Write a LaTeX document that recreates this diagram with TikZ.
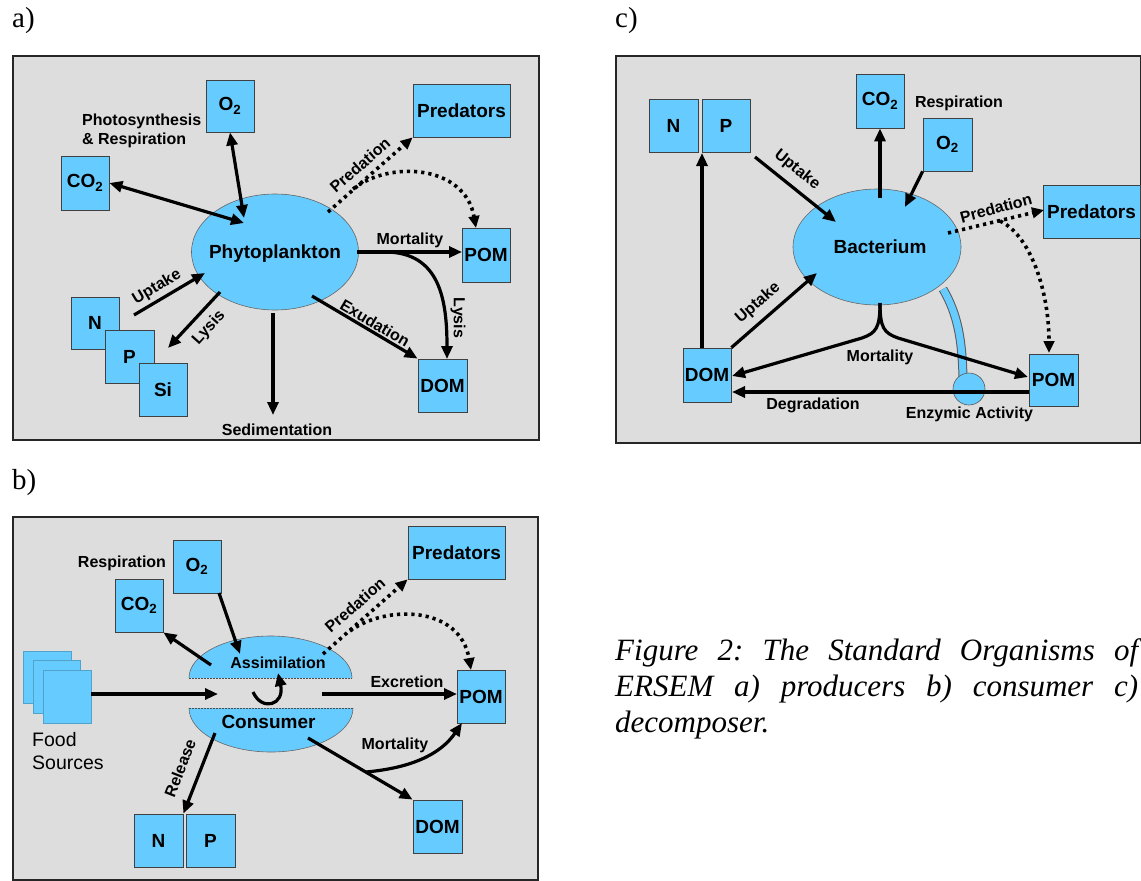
\documentclass[tikz,border=0pt]{standalone}
\usepackage{fontspec}
\setmainfont{Liberation Serif}
\newfontfamily\arialfont{Liberation Sans}
\usetikzlibrary{arrows.meta,shapes.geometric}
\definecolor{boxblue}{RGB}{102,204,255}
\definecolor{panelgray}{RGB}{221,221,221}
\newcommand{\lblfont}{\arialfont\bfseries\fontsize{19}{22}\selectfont}
\newcommand{\smlfont}{\arialfont\bfseries\fontsize{16}{19}\selectfont}
\newcommand{\capfont}{\frenchspacing\itshape\fontsize{31}{36}\selectfont}
\begin{document}
\begin{tikzpicture}[x=1pt,y=-1pt,
  frame/.style={draw=black!85, fill=panelgray, line width=1.3pt},
  bx/.style 2 args={draw=black!75, fill=boxblue, line width=0.8pt, inner sep=0pt,
     font=\lblfont, minimum width=#1pt, minimum height=#2pt},
  fb/.style 2 args={draw=boxblue!80!black, fill=boxblue, line width=0.4pt, inner sep=0pt,
     minimum width=#1pt, minimum height=#2pt},
  ell/.style 2 args={ellipse, draw=black!60, line width=0.6pt, fill=boxblue,
     minimum width=#1pt, minimum height=#2pt, inner sep=0pt},
  txt/.style={font=\smlfont, inner sep=0pt},
  big/.style={font=\lblfont, inner sep=0pt},
  arr/.style={line width=3.2pt, -{Triangle[length=13pt,width=11pt]}},
  darr/.style={line width=3.2pt, {Triangle[length=13pt,width=11pt]}-{Triangle[length=13pt,width=11pt]}},
  dotarr/.style={line width=3.6pt, dash pattern=on 3.2pt off 4pt, -{Triangle[length=12pt,width=10.5pt]}},
  halfline/.style={draw=black!70, line width=0.6pt, dash pattern=on 1.5pt off 1.5pt},
  shell/.style={fill=boxblue, draw=black!60, line width=0.6pt},
  plab/.style={font=\fontsize{29}{32}\selectfont, inner sep=0pt, anchor=west},
  capline/.style={font=\capfont, inner sep=0pt, anchor=base west}
]
\useasboundingbox (0,0) rectangle (1141,881);
\fill[white] (0,0) rectangle (1141,881);

% ---------------- panel labels ----------------
\node[plab] (la) at (12,21) {a)};
\node[plab] (lb) at (12,483) {b)};
\node[plab] (lc) at (615,21) {c)};

% ================= PANEL A =================
\draw[frame] (13,56) rectangle (539,440);
\node[bx={48}{52}] (o2a) at (230,106) {O\textsubscript{2}};
\node[bx={48}{54}] (co2a) at (85,183) {CO\textsubscript{2}};
\node[bx={97}{53}] (preda) at (461.5,110.5) {Predators};
\node[bx={48}{54}] (poma) at (486,255) {POM};
\node[bx={49}{53}] (doma) at (442.5,385.5) {DOM};
\node[bx={48}{52}] (na) at (95,323) {N};
\node[bx={49}{53}] (pa) at (129.5,356.5) {P};
\node[bx={48}{53}] (sia) at (163,389.5) {Si};
\node[ell={167}{116}] (phy) at (275,252) {};
\node[big] (phyt) at (275,254) {Phytoplankton};

\coordinate (a1) at (244,223);
\coordinate (a2) at (244,218);
\coordinate (a3) at (357,252);
\coordinate (a4) at (462,252);
\coordinate (a5) at (385,252);
\coordinate (a6) at (447,359);
\coordinate (a7) at (312,296);
\coordinate (a8) at (273,313);
\coordinate (a9) at (273,415);
\coordinate (a10) at (134,315);
\coordinate (a11) at (205,273);
\coordinate (a12) at (220,292);
\coordinate (a13) at (168,348);
\coordinate (a14) at (328,212);
\coordinate (a15) at (353,189);
\coordinate (a16) at (476,228);

\draw[darr] (co2a.east) -- (a1);
\draw[darr] (o2a.south) -- (a2);
\draw[arr] (a3) -- (a4);
\draw[arr] (a5) .. controls (440,252) and (447,300) .. (a6);
\draw[arr] (a7) -- (doma.north west);
\draw[arr] (a8) -- (a9);
\draw[arr] (a10) -- (a11);
\draw[arr] (a12) -- (a13);
\draw[dotarr] (a14) -- (preda.south west);
\draw[dotarr] (a15) .. controls (390,160) and (465,165) .. (a16);

\node[txt, anchor=west, align=left] (ta1) at (82,131) {Photosynthesis\\\& Respiration};
\node[txt, rotate=41] (ta2) at (360,165) {Predation};
\node[txt] (ta3) at (410,240) {Mortality};
\node[txt, rotate=-90] (ta4) at (458,318) {Lysis};
\node[txt, rotate=-30.5] (ta5) at (375,323) {Exudation};
\node[txt] (ta6) at (277,430) {Sedimentation};
\node[txt, rotate=30.6] (ta7) at (157,287) {Uptake};
\node[txt, rotate=48] (ta8) at (209,328) {Lysis};

% ================= PANEL B =================
\draw[frame] (13,517) rectangle (538,880);
\node[bx={48}{53}] (o2b) at (197,566.5) {O\textsubscript{2}};
\node[bx={48}{53}] (co2b) at (139,605.5) {CO\textsubscript{2}};
\node[bx={97}{53}] (predb) at (456.5,552.5) {Predators};
\node[bx={48}{53}] (pomb) at (481,696.5) {POM};
\node[bx={49}{53}] (domb) at (437.5,826.5) {DOM};
\node[bx={49}{53}] (nb) at (158.5,840.5) {N};
\node[bx={49}{53}] (pb) at (210.5,840.5) {P};
\node[fb={48}{52}] (f1) at (47,677) {};
\node[fb={47}{53}] (f2) at (56.5,686.5) {};
\node[fb={48}{53}] (f3) at (67,696.5) {};

\filldraw[shell] (189,678) arc[start angle=180, end angle=0, x radius=81.5pt, y radius=42pt];
\draw[halfline] (189,678) -- (352,678);
\filldraw[shell] (189,708) arc[start angle=180, end angle=360, x radius=82pt, y radius=44pt];
\draw[halfline] (189,708) -- (353,708);
\node[txt] (assim) at (278,663) {Assimilation};
\node[big] (cons) at (268.5,722) {Consumer};

\coordinate (b1) at (253,692);
\coordinate (b2) at (278,673);
\coordinate (b3) at (91,694);
\coordinate (b4) at (218,694);
\coordinate (b5) at (211,665);
\coordinate (b6) at (219,593);
\coordinate (b7) at (240,654);
\coordinate (b8) at (323,654);
\coordinate (b9) at (350,631);
\coordinate (b10) at (471,670);
\coordinate (b11) at (322,694);
\coordinate (b12) at (457,694);
\coordinate (b13) at (308,738);
\coordinate (b14) at (366,772);
\coordinate (b15) at (462,723);
\coordinate (b16) at (215,733);

\draw[arr] (b1) .. controls (262,712) and (285,705) .. (b2);
\draw[arr] (b3) -- (b4);
\draw[arr] (b5) -- (co2b.south east);
\draw[arr] (b6) -- (b7);
\draw[dotarr] (b8) -- (predb.south west);
\draw[dotarr] (b9) .. controls (385,605) and (460,605) .. (b10);
\draw[arr] (b11) -- (b12);
\draw[arr] (b13) -- (domb.north west);
\draw[arr] (b14) .. controls (410,768) and (440,755) .. (b15);
\draw[arr] (b16) -- (nb.north east);

\node[txt] (tb1) at (122,563) {Respiration};
\node[txt, rotate=41] (tb2) at (355,605) {Predation};
\node[txt] (tb3) at (407,682) {Excretion};
\node[txt] (tb4) at (395,745) {Mortality};
\node[txt, rotate=68.6] (tb5) at (180,768) {Release};
\node[anchor=west, align=left, font=\arialfont\fontsize{19.5}{23}\selectfont, inner sep=0pt] (tb6) at (32,751.5) {Food\\Sources};

% ================= PANEL C =================
\draw[frame] (616,56) rectangle (1140.3,443);
\node[bx={49}{53}] (nc) at (673.5,125.5) {N};
\node[bx={48}{53}] (pc) at (726,125.5) {P};
\node[bx={48}{54}] (co2c) at (880,101) {CO\textsubscript{2}};
\node[bx={49}{53}] (o2c) at (947.5,144.5) {O\textsubscript{2}};
\node[bx={97}{53}] (predc) at (1091.5,211.5) {Predators};
\node[bx={49}{52}] (pomc) at (1053.5,380) {POM};
\node[bx={48}{54}] (domc) at (707,375) {DOM};

\coordinate (ct1) at (943,289);
\coordinate (ct2) at (963,377);
\draw[line width=9pt, black!65] (ct1) .. controls (958,315) and (962,340) .. (ct2);
\draw[line width=7pt, boxblue] (ct1) .. controls (958,315) and (962,340) .. (ct2);
\node[ell={168}{116}] (bac) at (877,247) {};
\node[big] (bact) at (880,247) {Bacterium};
\node[circle, fill=boxblue, draw=black!65, line width=0.6pt, minimum size=32pt, inner sep=0pt] (enz) at (969,389) {};

\coordinate (c1) at (702,348);
\coordinate (c2) at (702,153);
\coordinate (c3) at (755,157);
\coordinate (c4) at (836,222);
\coordinate (c5) at (880,198);
\coordinate (c6) at (905,207);
\coordinate (c7) at (948,233);
\coordinate (c8) at (1044,210);
\coordinate (c9) at (1000,221);
\coordinate (c10) at (1049,353);
\coordinate (c11) at (880,303);
\coordinate (c12) at (732,376);
\coordinate (c13) at (1028,377);
\coordinate (c14) at (1029,392);
\coordinate (c15) at (732,392);
\coordinate (c16) at (817,273);

\draw[arr] (c1) -- (c2);
\draw[arr] (c3) -- (c4);
\draw[arr] (c5) -- (co2c.south);
\draw[arr] (o2c.south west) -- (c6);
\draw[dotarr] (c7) -- (c8);
\draw[dotarr] (c9) .. controls (1030,235) and (1049,290) .. (c10);
\draw[arr] (c11) .. controls (880,328) and (876,333) .. (862,338) -- (c12);
\draw[arr] (c11) .. controls (880,328) and (884,333) .. (898,338) -- (c13);
\draw[arr] (c14) -- (c15);
\draw[arr] (domc.north east) -- (c16);

\node[txt, rotate=-38.7] (tc1) at (797,170) {Uptake};
\node[txt] (tc2) at (959,103) {Respiration};
\node[txt, rotate=15] (tc3) at (996,208) {Predation};
\node[txt, rotate=41] (tc4) at (758,303) {Uptake};
\node[txt] (tc5) at (880,357) {Mortality};
\node[txt] (tc6) at (813,405) {Degradation};
\node[txt] (tc7) at (969.5,414) {Enzymic Activity};

% ================= CAPTION =================
\node[capline] (cap1) at (615,660) {\makebox[523pt][s]{Figure 2: The Standard Organisms of}};
\node[capline] (cap2) at (615,696) {\makebox[523pt][s]{ERSEM a) producers b) consumer c)}};
\node[capline] (cap3) at (615,732) {decomposer.};
\end{tikzpicture}
\end{document}
